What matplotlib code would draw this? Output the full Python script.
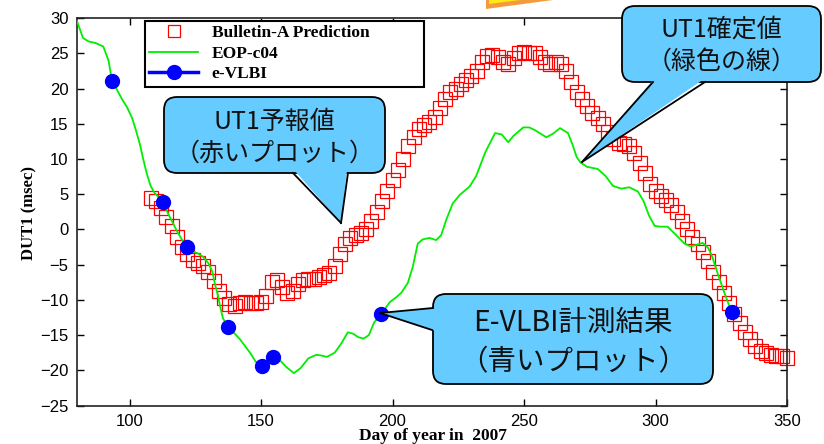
import matplotlib
matplotlib.use('Agg')
import matplotlib.pyplot as plt
from matplotlib.patches import FancyBboxPatch, Polygon
from matplotlib.lines import Line2D
from matplotlib.transforms import Affine2D

# EOP-c04 (green line)
eop_day = [80.0, 82.3, 84.5, 87, 90, 92, 93.3, 95, 97, 99, 101, 102.5, 104, 105,
           106.5, 108, 109.5, 111, 113, 115, 118, 120, 122, 124, 126, 128, 130,
           131.5, 132.5, 133.5, 134.5, 135.5, 137.6, 140, 142, 144, 146, 148,
           150.5, 152.5, 154.6, 157, 159.5, 162.5, 165, 168, 171, 173, 175, 178,
           180.5, 183, 185, 187, 189, 191, 193, 195.5, 199, 201.5, 203.3, 205.8,
           207.7, 209.6, 211.5, 214, 216.6, 218.5, 220.4, 222.9, 225.5, 229.3,
           231.8, 235.3, 239, 241.5, 244, 246, 249.7, 252, 254.2, 258.5, 261,
           263.7, 266.7, 268.5, 270, 271.5, 274, 278, 281, 283.8, 287, 290,
           293.3, 295.5, 297.5, 299.7, 302, 304.6, 306.5, 308.4, 311, 313.3,
           315.5, 317.9, 320, 321.5, 323.6, 326.2, 328, 329.2, 331]
eop_val = [29.6, 27.2, 26.7, 26.5, 26.0, 24.0, 21.2, 20.0, 18.6, 17.4, 15.8, 14.0,
           12.0, 10.3, 8.0, 6.2, 5.2, 4.6, 3.6, 2.0, -0.2, -1.5, -2.6, -3.1, -3.4,
           -3.9, -4.8, -6.0, -7.8, -9.2, -11.0, -12.6, -13.9, -14.8, -15.6, -16.6,
           -17.6, -18.8, -19.5, -19.2, -18.2, -18.5, -19.5, -20.4, -19.7, -18.3,
           -17.8, -17.9, -18.1, -17.5, -16.2, -14.6, -14.8, -15.3, -15.5, -15.0,
           -13.2, -12.1, -10.3, -9.6, -9.0, -7.6, -5.3, -2.0, -1.4, -1.2, -1.5,
           -0.8, 1.35, 3.7, 4.9, 6.1, 7.6, 11.0, 13.7, 13.5, 12.4, 13.3, 14.5,
           14.5, 14.1, 13.1, 13.6, 14.4, 13.7, 12.0, 10.3, 9.5, 8.9, 8.6, 7.6,
           6.2, 5.8, 6.0, 5.4, 4.0, 2.0, 0.5, 0.4, 0.4, -0.3, -1.0, -2.0, -2.4,
           -2.2, -1.9, -2.6, -3.8, -6.2, -9.0, -10.8, -11.7, -12.4]

# e-VLBI (blue dots)
vlbi_day = [93.3, 112.9, 122.0, 137.6, 150.5, 154.6, 195.5, 329.2]
vlbi_val = [21.1, 3.85, -2.5, -13.9, -19.4, -18.1, -12.0, -11.7]

# Bulletin-A prediction (red squares), every 2 days from day 108
bull_day = list(range(108, 351, 2))
bull_val = [4.5, 4.0, 3.0, 1.8, 0.5, -1.0, -2.5, -3.5, -4.3, -4.8,
            -5.2, -6.0, -7.3, -8.8, -9.8, -10.6, -10.8, -10.5, -10.3, -10.4,
            -10.5, -10.3, -9.5, -7.5, -7.2, -8.2, -9.0, -8.8, -7.8, -7.2,
            -7.0, -7.0, -6.8, -6.5, -6.2, -5.2, -3.5, -2.0, -1.2, -0.8,
            -0.5, 0.0, 1.2, 2.5, 4.0, 5.5, 7.0, 8.5, 10.0, 11.8,
            13.2, 14.3, 14.8, 15.2, 16.0, 17.3, 18.6, 19.5, 20.0, 20.6,
            21.2, 21.8, 22.5, 23.8, 24.6, 24.8, 24.5, 23.8, 23.5, 24.3,
            25.0, 25.2, 25.0, 25.0, 24.5, 23.8, 23.5, 23.8, 23.5, 22.5,
            21.0, 19.5, 18.5, 17.5, 16.5, 15.8, 15.0, 13.8, 12.8, 12.3,
            12.2, 11.8, 10.8, 9.5, 8.0, 6.5, 5.5, 4.8, 4.2, 3.5,
            2.5, 1.2, 0.0, -1.0, -2.0, -3.2, -4.5, -6.0, -7.5, -9.0,
            -10.5, -12.0, -13.3, -14.5, -15.5, -16.5, -17.3, -17.5, -17.8, -18.0,
            -18.0, -18.2]

xticks = [100, 150, 200, 250, 300, 350]
yticks = list(range(-25, 31, 5))

fig = plt.figure(figsize=(8.24, 4.44), dpi=100)
ax = fig.add_axes([0.0934, 0.0867, 0.8617, 0.8721])

ax.plot(bull_day, bull_val, linestyle='none', marker='s', markersize=9.5,
        markerfacecolor='none', markeredgecolor='#ff0000', markeredgewidth=0.9,
        clip_on=False, zorder=2)
ax.plot(eop_day, eop_val, color='#00ee00', linewidth=1.3, zorder=3)
ax.plot(vlbi_day, vlbi_val, linestyle='none', marker='o', markersize=10,
        color='#0000ff', zorder=4)

ax.set_xlim(80, 350)
ax.set_ylim(-25, 30)
ax.set_xticks(xticks)
ax.set_yticks(yticks)
ax.tick_params(direction='in', top=True, right=True, length=5, width=1,
               labelsize=12, pad=6)
for lab in ax.get_xticklabels() + ax.get_yticklabels():
    lab.set_family('Liberation Sans')
for s in ax.spines.values():
    s.set_linewidth(1.2)
    s.set_color('#222222')

handles = [
    Line2D([], [], linestyle='none', marker='s', markersize=8, markerfacecolor='none',
           markeredgecolor='#ff0000', markeredgewidth=0.9),
    Line2D([], [], color='#00ee00', linewidth=1.3),
    Line2D([], [], color='#0000ff', linewidth=2.5, marker='o', markersize=10),
]
leg = ax.legend(handles, ['Bulletin-A Prediction', 'EOP-c04', 'e-VLBI'],
                loc='upper left', bbox_to_anchor=(145 / 824, 1 - 88 / 444, 279 / 824, 67 / 444),
                bbox_transform=fig.transFigure, mode='expand', fancybox=False,
                framealpha=1, edgecolor='black', borderpad=0.25, labelspacing=0.25,
                borderaxespad=0, handlelength=2.8, handletextpad=0.8,
                prop={'family': 'Liberation Serif', 'weight': 'bold', 'size': 12.5})
leg.get_frame().set_linewidth(1.5)
leg.set_zorder(6)

fig.text(29 / 824, 1 - 213 / 444, 'DUT1 (msec)', rotation=90, ha='center', va='center',
         family='Liberation Serif', weight='bold', fontsize=12)
fig.text(433 / 824, 1 - 436 / 444, 'Day of year in  2007', ha='center', va='center',
         family='Liberation Serif', weight='bold', fontsize=12.5)

# pixel transform (origin top-left)
px = Affine2D().scale(1 / 100, -1 / 100).translate(0, 4.44) + fig.dpi_scale_trans

blue = '#66ccff'
cjk = ['Noto Sans CJK JP', 'DejaVu Sans']


def callout(x0, y0, x1, y1, base_a, base_b, fill_a, fill_b, tip, lines, size):
    box = FancyBboxPatch((x0, y0), x1 - x0, y1 - y0,
                         boxstyle='round,pad=0,rounding_size=13',
                         facecolor=blue, edgecolor='black', linewidth=1.3,
                         transform=px, zorder=7)
    fig.add_artist(box)
    tri = Polygon([fill_a, fill_b, tip], closed=True, facecolor=blue,
                  edgecolor='none', transform=px, zorder=8)
    fig.add_artist(tri)
    for b in (base_a, base_b):
        fig.add_artist(Line2D([b[0], tip[0]], [b[1], tip[1]], color='black',
                              linewidth=1.3, transform=px, zorder=9))
    cx = (x0 + x1) / 2
    for (txt, ty) in lines:
        fig.text(cx, ty, txt, transform=px, ha='center', va='center',
                 family=cjk, fontsize=size, color='#111111', zorder=10)


callout(164, 97, 385, 173, (293, 173), (348, 173), (294, 170), (347, 170), (341, 223),
        [('UT1予報値', 122), ('（赤いプロット）', 154)], 18)
callout(622, 6, 821, 82, (653, 82), (705, 82), (654, 79), (704, 79), (582, 162),
        [('UT1確定値', 30), ('（緑色の線）', 63)], 18)
callout(433, 294, 713, 384, (433, 308), (432, 330), (436, 308), (436, 331), (380, 313),
        [('E-VLBI計測結果', 323), ('（青いプロット）', 362)], 20.5)

# orange shape cut off at the top
fig.add_artist(Polygon([(486, 9), (553, 0), (486, 0)], closed=True, facecolor='#f39a3c',
                       edgecolor='none', transform=px, zorder=5))
fig.add_artist(Polygon([(489, 4), (520, 0), (489, 0)], closed=True, facecolor='#ffe81a',
                       edgecolor='none', transform=px, zorder=5))

fig.savefig('out.png', dpi=100)
